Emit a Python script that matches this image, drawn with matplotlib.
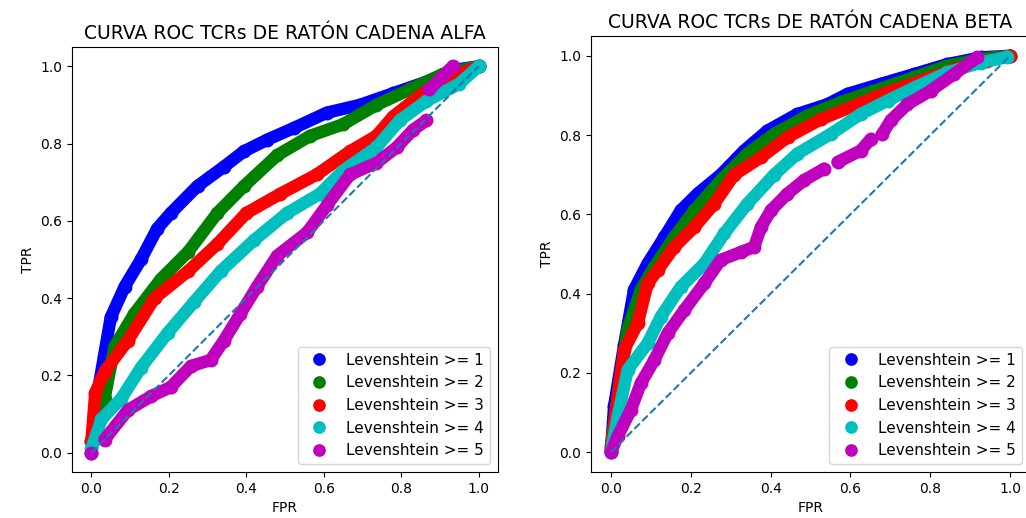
import matplotlib
matplotlib.use('Agg')
import matplotlib.pyplot as plt
import numpy as np

# Valores (FPR, TPR) para cada distancia de Levenshtein
labels = ['Levenshtein >= 1', 'Levenshtein >= 2', 'Levenshtein >= 3',
          'Levenshtein >= 4', 'Levenshtein >= 5']
colors = ['b', 'g', 'r', 'c', 'm']

# ---- Cadena alfa ----
fpr_a1 = [0.0, 0.017, 0.05, 0.086, 0.128, 0.17, 0.205, 0.274, 0.342, 0.394, 0.454, 0.522, 0.608, 0.693, 0.779, 0.865, 0.933, 1.0]
tpr_a1 = [0.0, 0.16, 0.35, 0.43, 0.50, 0.58, 0.62, 0.69, 0.74, 0.78, 0.81, 0.84, 0.88, 0.90, 0.93, 0.96, 0.99, 1.0]
fpr_a2 = [0.0, 0.034, 0.06, 0.111, 0.18, 0.25, 0.325, 0.394, 0.48, 0.565, 0.65, 0.736, 0.822, 0.908, 1.0]
tpr_a2 = [0.03, 0.14, 0.275, 0.36, 0.45, 0.52, 0.62, 0.69, 0.77, 0.82, 0.85, 0.90, 0.94, 0.98, 1.0]
fpr_a3 = [0.0, 0.01, 0.034, 0.094, 0.163, 0.25, 0.325, 0.40, 0.488, 0.582, 0.668, 0.736, 0.779, 0.83, 0.89, 0.95, 1.0]
tpr_a3 = [0.03, 0.155, 0.21, 0.29, 0.40, 0.47, 0.54, 0.62, 0.67, 0.72, 0.78, 0.82, 0.87, 0.91, 0.955, 0.98, 1.0]
fpr_a4 = [0.0, 0.026, 0.077, 0.128, 0.197, 0.265, 0.334, 0.42, 0.505, 0.59, 0.65, 0.736, 0.796, 0.865, 0.95, 1.0]
tpr_a4 = [0.01, 0.086, 0.14, 0.22, 0.31, 0.39, 0.47, 0.55, 0.62, 0.67, 0.73, 0.79, 0.86, 0.91, 0.955, 1.0]
fpr_a5 = [0.0, np.nan, 0.034, 0.094, 0.154, 0.205, 0.257, 0.308, 0.342, 0.385, 0.428, 0.48, 0.557, 0.608, 0.668, 0.736, 0.788, 0.83, 0.865, np.nan, 0.873, 0.933]
tpr_a5 = [0.0, np.nan, 0.034, 0.11, 0.146, 0.17, 0.224, 0.24, 0.29, 0.36, 0.43, 0.51, 0.57, 0.64, 0.72, 0.75, 0.79, 0.835, 0.86, np.nan, 0.94, 1.0]

# ---- Cadena beta ----
fpr_b1 = [0.0, 0.008, 0.033, 0.058, 0.092, 0.134, 0.175, 0.217, 0.275, 0.334, 0.392, 0.467, 0.543, 0.593, 0.676, 0.76, 0.843, 0.927, 1.0]
tpr_b1 = [0.0, 0.116, 0.27, 0.41, 0.476, 0.543, 0.61, 0.652, 0.70, 0.761, 0.811, 0.853, 0.878, 0.904, 0.929, 0.954, 0.979, 0.996, 1.0]
fpr_b2 = [0.0, 0.017, 0.042, 0.075, 0.109, 0.159, 0.209, 0.275, 0.342, 0.409, 0.492, 0.576, 0.66, 0.76, 0.843, 0.927, 1.0]
tpr_b2 = [0.015, 0.14, 0.31, 0.41, 0.468, 0.543, 0.61, 0.686, 0.753, 0.803, 0.849, 0.883, 0.912, 0.946, 0.975, 0.992, 1.0]
fpr_b3 = [0.0, 0.017, 0.033, 0.067, 0.092, 0.117, 0.159, 0.209, 0.259, 0.309, 0.376, 0.443, 0.526, 0.609, 0.693, 0.776, 0.86, 0.943, 1.0]
tpr_b3 = [0.007, 0.14, 0.258, 0.325, 0.426, 0.459, 0.518, 0.568, 0.627, 0.70, 0.744, 0.795, 0.84, 0.874, 0.908, 0.937, 0.966, 0.987, 1.0]
fpr_b4 = [0.0, 0.017, 0.042, 0.092, 0.125, 0.175, 0.234, 0.284, 0.342, 0.409, 0.467, 0.551, 0.626, 0.693, 0.76, 0.843, 0.927, 0.993]
tpr_b4 = [0.0, 0.09, 0.208, 0.275, 0.342, 0.417, 0.476, 0.552, 0.627, 0.70, 0.753, 0.803, 0.853, 0.887, 0.92, 0.958, 0.983, 0.997]
fpr_b5 = [0.0, 0.017, 0.05, 0.075, 0.109, 0.142, 0.184, 0.234, 0.275, 0.326, 0.359, 0.376, 0.401, 0.442, 0.484, 0.534, np.nan, 0.568, 0.626, 0.651, np.nan, 0.68, 0.701, 0.743, 0.801, 0.86, 0.918]
tpr_b5 = [0.0, 0.04, 0.107, 0.174, 0.233, 0.30, 0.359, 0.426, 0.485, 0.505, 0.518, 0.568, 0.61, 0.652, 0.686, 0.715, np.nan, 0.732, 0.761, 0.79, np.nan, 0.803, 0.837, 0.878, 0.912, 0.954, 0.996]

alfa = [(fpr_a1, tpr_a1), (fpr_a2, tpr_a2), (fpr_a3, tpr_a3), (fpr_a4, tpr_a4), (fpr_a5, tpr_a5)]
beta = [(fpr_b1, tpr_b1), (fpr_b2, tpr_b2), (fpr_b3, tpr_b3), (fpr_b4, tpr_b4), (fpr_b5, tpr_b5)]

fig = plt.figure(figsize=(10.26, 5.18), dpi=100)
ax1 = fig.add_axes([0.0702, 0.0888, 0.4152, 0.8205])
ax2 = fig.add_axes([0.576, 0.0888, 0.4279, 0.8417])

def plot_roc(ax, curves, title):
    for (fpr, tpr), c, lab in zip(curves, colors, labels):
        ax.plot(fpr, tpr, '-', color=c, lw=9, solid_capstyle='round', solid_joinstyle='round')
        ax.plot(fpr, tpr, 'o', color=c, ms=9, label=lab)
    ax.plot([0, 1], [0, 1], '--', color='C0')
    ax.set_xlim(-0.05, 1.05)
    ax.set_ylim(-0.05, 1.05)
    ax.set_title(title, fontsize=13.5)
    ax.set_xlabel('FPR')
    ax.set_ylabel('TPR')
    ax.legend(loc='lower right', fontsize=11, markerscale=0.9)

plot_roc(ax1, alfa, 'CURVA ROC TCRs DE RATÓN CADENA ALFA')
plot_roc(ax2, beta, 'CURVA ROC TCRs DE RATÓN CADENA BETA')

plt.savefig('out.png', dpi=100)
